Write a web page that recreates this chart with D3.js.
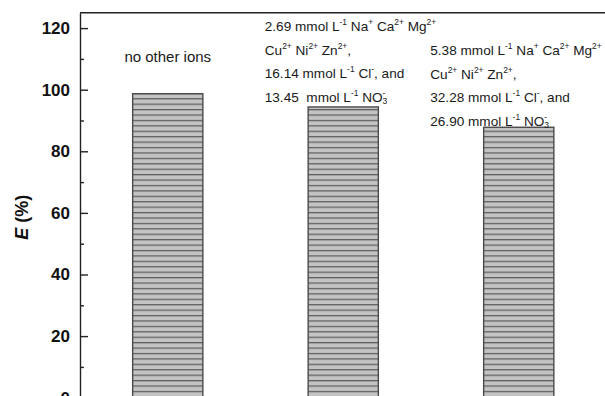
<!DOCTYPE html>
<html>
<head>
<meta charset="utf-8">
<script src="https://cdn.jsdelivr.net/npm/d3@7"></script>
<style>
  body { margin: 0; background: #fff; }
  svg { display: block; font-family: Arial, "Liberation Sans", sans-serif; }
  text { white-space: pre; }
</style>
</head>
<body>
<div id="chart"></div>
<script>
// -------------------------------
// Data
// -------------------------------
const categories = ["none", "single", "double"];
const values = [98.7, 94.4, 87.8];
const yTicks = [0, 20, 40, 60, 80, 100, 120];
const yMinorTicks = [10, 30, 50, 70, 90, 110];
const yLabel = "E";
const noteLines = [
  ["no other ions"],
  ["2.69 mmol L^{-1} Na^{+} Ca^{2+} Mg^{2+}",
   "Cu^{2+} Ni^{2+} Zn^{2+},",
   "16.14 mmol L^{-1} Cl^{-}, and",
   "13.45  mmol L^{-1} NO_{3}^{-}"],
  ["5.38 mmol L^{-1} Na^{+} Ca^{2+} Mg^{2+}",
   "Cu^{2+} Ni^{2+} Zn^{2+},",
   "32.28 mmol L^{-1} Cl^{-}, and",
   "26.90 mmol L^{-1} NO_{3}^{-}"]
];

// -------------------------------
// Layout
// -------------------------------
const width = 605, height = 396;
const margin = { top: 12.7, left: 80 };
const zeroY = 397.7;
const plotRight = 606.5;

const svg = d3.select("#chart").append("svg")
  .attr("width", width)
  .attr("height", height);

// hatch pattern for the bars
const pattern = svg.append("defs").append("pattern")
  .attr("id", "hatch")
  .attr("patternUnits", "userSpaceOnUse")
  .attr("width", 10)
  .attr("height", 5.42)
  .attr("y", 0.6);
pattern.append("rect")
  .attr("width", 10).attr("height", 5.42)
  .attr("fill", "#c3c3c3");
pattern.append("line")
  .attr("x1", 0).attr("x2", 10)
  .attr("y1", 0.6).attr("y2", 0.6)
  .attr("stroke", "#5e5e5e")
  .attr("stroke-width", 1.3);

// -------------------------------
// Scales
// -------------------------------
const x = d3.scaleBand()
  .domain(categories)
  .range([margin.left, plotRight])
  .paddingInner(0.6)
  .paddingOuter(0.3);

const y = d3.scaleLinear()
  .domain([0, 125])
  .range([zeroY, margin.top]);

// -------------------------------
// Bars
// -------------------------------
svg.selectAll("rect.bar")
  .data(values)
  .join("rect")
  .attr("class", "bar")
  .attr("x", (d, i) => x(categories[i]))
  .attr("y", d => y(d))
  .attr("width", x.bandwidth())
  .attr("height", d => y(0) - y(d))
  .attr("fill", "url(#hatch)")
  .attr("stroke", "#4a4a4a")
  .attr("stroke-width", 1.4);

// -------------------------------
// Axes and frame
// -------------------------------
const yAxis = svg.append("g")
  .attr("transform", `translate(${margin.left},0)`)
  .call(d3.axisLeft(y).tickValues(yTicks).tickSizeInner(-8).tickSizeOuter(0).tickPadding(10));
yAxis.select(".domain").attr("stroke", "#222").attr("stroke-width", 1.4);
yAxis.selectAll(".tick line").attr("stroke", "#222").attr("stroke-width", 1.4);
yAxis.selectAll(".tick text")
  .attr("font-size", 17)
  .attr("font-weight", "bold")
  .attr("font-family", "Arial, 'Liberation Sans', sans-serif")
  .attr("fill", "#111");

const yMinor = svg.append("g")
  .attr("transform", `translate(${margin.left},0)`)
  .call(d3.axisLeft(y).tickValues(yMinorTicks).tickSizeInner(-4).tickSizeOuter(0).tickFormat(""));
yMinor.select(".domain").remove();
yMinor.selectAll(".tick line").attr("stroke", "#222").attr("stroke-width", 1.4);

svg.append("line")
  .attr("x1", margin.left).attr("x2", plotRight)
  .attr("y1", y(125)).attr("y2", y(125))
  .attr("stroke", "#222").attr("stroke-width", 1.4);

// y label
const yl = svg.append("text")
  .attr("transform", `translate(28,${(y(125) + y(0)) / 2 + 12}) rotate(-90)`)
  .attr("text-anchor", "middle")
  .attr("font-size", 18)
  .attr("font-weight", "bold")
  .attr("fill", "#111");
yl.append("tspan").attr("font-style", "italic").text(yLabel);
yl.append("tspan").text(" (%)");

// -------------------------------
// Notes above bars (with super/subscripts)
// -------------------------------
const noteLayout = [
  { dx: 0, y0: 62, anchor: "middle" },
  { dx: -78.5, y0: 31, anchor: "start" },
  { dx: -88.5, y0: 55, anchor: "start" }
];
const lineGap = 23.5;
const fs = 13.6;

function addRich(textSel, str) {
  const parts = str.split(/(\^\{[^}]*\}|_\{[^}]*\})/).filter(s => s.length);
  let shift = 0;
  let prevSubWidth = 0;
  parts.forEach(p => {
    let dy = 0, size = fs, content = p, dx = 0;
    if (p.startsWith("^{")) {
      content = p.slice(2, -1);
      size = fs * 0.62;
      dy = -fs * 0.42 - shift;
      shift = -fs * 0.42;
      if (prevSubWidth) dx = -prevSubWidth;
      prevSubWidth = 0;
    } else if (p.startsWith("_{")) {
      content = p.slice(2, -1);
      size = fs * 0.62;
      dy = fs * 0.22 - shift;
      shift = fs * 0.22;
      prevSubWidth = content.length * size * 0.556;
    } else {
      dy = -shift;
      shift = 0;
      prevSubWidth = 0;
    }
    textSel.append("tspan")
      .attr("dy", dy)
      .attr("dx", dx)
      .attr("font-size", size)
      .text(content);
  });
}

noteLines.forEach((lines, i) => {
  const lay = noteLayout[i];
  const cx = x(categories[i]) + x.bandwidth() / 2 + lay.dx;
  lines.forEach((ln, j) => {
    const t = svg.append("text")
      .attr("x", cx)
      .attr("y", lay.y0 + j * lineGap)
      .attr("text-anchor", lay.anchor)
      .attr("font-size", i === 0 ? 15 : fs)
      .attr("fill", "#1a1a1a");
    if (i === 0) t.text(ln);
    else addRich(t, ln);
  });
});
</script>
</body>
</html>
